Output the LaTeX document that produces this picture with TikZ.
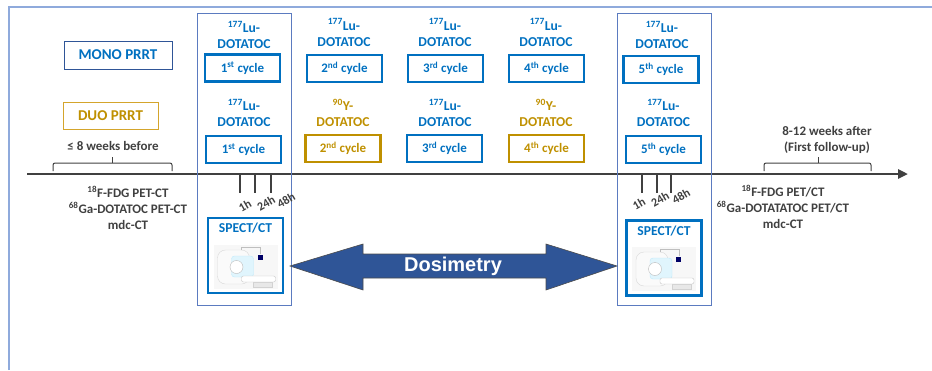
\documentclass[tikz,border=0pt]{standalone}
\usepackage{fontspec}
\setmainfont{Carlito}
\newfontfamily\dosifont{Liberation Sans}
\usetikzlibrary{arrows.meta,positioning}

\definecolor{cycblue}{HTML}{0070C0}
\definecolor{cycgold}{HTML}{BF9000}
\definecolor{duogold}{HTML}{D4A52C}
\definecolor{txtgray}{HTML}{404040}
\definecolor{framebl}{HTML}{8FAADC}
\definecolor{boxbl}{HTML}{5B7BC0}
\definecolor{monobl}{HTML}{2F5597}
\definecolor{dosibl}{HTML}{2F5597}

% small SPECT/CT scanner sketch, centred on its origin
\tikzset{
  scanner/.pic={
    \fill[gray!6] (-32,-22) rectangle (32,22);
    % gantry
    \filldraw[fill=gray!4, draw=gray!30, rounded corners=8pt] (-28,-17) rectangle (4,17);
    \filldraw[fill=cyan!12, draw=cyan!25, rounded corners=3pt] (-14,-11) rectangle (8,10);
    \filldraw[fill=white, draw=gray!55] (-9,0) circle (6.5);
    % bed
    \filldraw[fill=gray!18, draw=gray!35] (8,15) rectangle (27,20);
    \filldraw[fill=white, draw=gray!45, rounded corners=2pt] (-4,9) rectangle (30,15);
    % detector arm and monitor
    \draw[gray!50] (-4,-17) -- (-4,-20) -- (15,-20) -- (15,-13);
    \fill[blue!40!black] (12,-12) rectangle (17,-7);
  }
}

\begin{document}
\begin{tikzpicture}[x=1pt,y=-1pt,
  every node/.style={font=\bfseries\fontsize{13}{16}\selectfont, inner sep=0pt, align=center},
  iso/.style={text=cycblue, font=\bfseries\fontsize{13.6}{16}\selectfont},
  isogold/.style={iso, text=cycgold},
  cyclebox/.style={draw=cycblue, text=cycblue, line width=2.2pt, minimum width=75pt, minimum height=27pt},
  cyclegold/.style={cyclebox, draw=cycgold, text=cycgold},
  tallbox/.style={draw=boxbl, line width=0.9pt},
  spectbox/.style={draw=cycblue, line width=2.2pt, minimum width=75pt, minimum height=75pt},
  exam/.style={text=txtgray},
  tick/.style={draw=txtgray, line width=2.4pt},
  brack/.style={draw=txtgray, line width=1pt, rounded corners=2pt},
  hours/.style={exam, rotate=30, font=\bfseries\fontsize{12}{14}\selectfont},
]
\useasboundingbox (0,0) rectangle (932,370);

% Outer frame (only top and left edges show)
\draw[framebl, line width=1.2pt] (9,370) -- (9,7) -- (932,7);

%--- Protocol labels ---
\node[draw=monobl, line width=0.8pt, text=cycblue, minimum width=108pt, minimum height=28pt,
      font=\bfseries\fontsize{15}{18}\selectfont] (mono) at (118,55) {MONO PRRT};
\node[draw=duogold, line width=0.8pt, text=cycgold, minimum width=95pt, minimum height=27pt,
      font=\bfseries\fontsize{15}{18}\selectfont] (duo) at (110.5,115.5) {DUO PRRT};

%--- Time axis ---
\coordinate (tl0) at (27,174);
\coordinate (tl1) at (908,174);
\draw[txtgray, line width=2.6pt, -{Triangle[length=10pt,width=9pt]}] (tl0) -- (tl1);

% Before: bracket and staging exams
\draw[brack] (53,171) -- (53,163) -- (172,163) -- (172,171);
\draw[brack] (112,163) -- (112,157);
\node[exam] (before) at (113,146) {≤ 8 weeks before};
\node[exam] (examL) at (128,208) {\textsuperscript{18}F-FDG PET-CT\\ \textsuperscript{68}Ga-DOTATOC PET-CT\\ mdc-CT};

% After: bracket and follow-up exams
\draw[brack] (764,171) -- (764,163) -- (871,163) -- (871,171);
\draw[brack] (818,163) -- (818,157);
\node[exam] (after) at (827,140) {8-12 weeks after\\ (First follow-up)};
\node[exam] (examR) at (783,207) {\textsuperscript{18}F-FDG PET/CT\\ \textsuperscript{68}Ga-DOTATATOC PET/CT\\ mdc-CT};

%--- First cycle with dosimetry ---
\begin{scope}[shift={(244,0)}]
  \draw[tallbox] (-47,13) rectangle (47,305);

  % Mono and duo first cycle
  \node[iso] (isoA1) at (0,35) {\textsuperscript{177}Lu-\\ DOTATOC};
  \node[cyclebox] (cycA1) at (-1.5,68) {1\textsuperscript{st} cycle};
  \node[iso] (isoB1) at (0,113) {\textsuperscript{177}Lu-\\ DOTATOC};
  \node[cyclebox] (cycB1) at (-0.5,149.5) {1\textsuperscript{st} cycle};

  % Acquisition times
  \draw[tick] (-4,174) -- (-4,193);
  \draw[tick] (11,174) -- (11,193);
  \draw[tick] (27,174) -- (27,193);
  \node[hours] (hA1) at (1,206) {1h};
  \node[hours] (hA24) at (22,203) {24h};
  \node[hours] (hA48) at (42,200) {48h};

  % Imaging
  \node[spectbox] (spectL) at (1.5,255.5) {};
  \node[iso] (spectLlab) [below=6pt of spectL.north] {SPECT/CT};
  \pic at (1.5,267) {scanner};
\end{scope}

%--- Cycles 2 to 4 ---
\node[iso] (isoA2) at (344,32.5) {\textsuperscript{177}Lu-\\ DOTATOC};
\node[cyclebox] (cycA2) at (344.5,68.5) {2\textsuperscript{nd} cycle};
\node[isogold] (isoB2) at (343,113) {\textsuperscript{90}Y-\\ DOTATOC};
\node[cyclegold] (cycB2) at (343,148.5) {2\textsuperscript{nd} cycle};

\node[iso] (isoA3) at (445,32.5) {\textsuperscript{177}Lu-\\ DOTATOC};
\node[cyclebox] (cycA3) at (445.5,68.5) {3\textsuperscript{rd} cycle};
\node[iso] (isoB3) at (445,113) {\textsuperscript{177}Lu-\\ DOTATOC};
\node[cyclebox] (cycB3) at (444.5,148.5) {3\textsuperscript{rd} cycle};

\node[iso] (isoA4) at (546,32.5) {\textsuperscript{177}Lu-\\ DOTATOC};
\node[cyclebox] (cycA4) at (546.5,68.5) {4\textsuperscript{th} cycle};
\node[isogold] (isoB4) at (546,113) {\textsuperscript{90}Y-\\ DOTATOC};
\node[cyclegold] (cycB4) at (546.5,148.5) {4\textsuperscript{th} cycle};

%--- Last cycle with dosimetry ---
\begin{scope}[shift={(664,0)}]
  \draw[tallbox] (-47,13) rectangle (47,305);

  \node[iso] (isoA5) at (-2,35) {\textsuperscript{177}Lu-\\ DOTATOC};
  \node[cyclebox] (cycA5) at (-3,69.5) {5\textsuperscript{th} cycle};
  \node[iso] (isoB5) at (-0.5,113) {\textsuperscript{177}Lu-\\ DOTATOC};
  \node[cyclebox] (cycB5) at (-0.5,149.5) {5\textsuperscript{th} cycle};

  % Acquisition times
  \draw[tick] (-22,174) -- (-22,193);
  \draw[tick] (-7,174) -- (-7,193);
  \draw[tick] (7,174) -- (7,193);
  \node[hours] (hB1) at (-25,204) {1h};
  \node[hours] (hB24) at (-4,199) {24h};
  \node[hours] (hB48) at (17,196) {48h};

  % Imaging
  \node[spectbox] (spectR) at (0,258) {};
  \node[iso] (spectRlab) [below=6pt of spectR.north] {SPECT/CT};
  \pic at (0,269) {scanner};
\end{scope}

%--- Dosimetry double arrow between the two imaging points ---
\filldraw[fill=dosibl, draw=black!70, line width=0.6pt]
  (290,266) -- (363,244) -- (363,254) -- (546,254) -- (546,244) -- (617,266)
  -- (546,290) -- (546,278) -- (363,278) -- (363,290) -- cycle;
\node[text=white, font=\dosifont\bfseries\fontsize{20}{24}\selectfont] (dosi) at (453,266) {Dosimetry};

\end{tikzpicture}
\end{document}
